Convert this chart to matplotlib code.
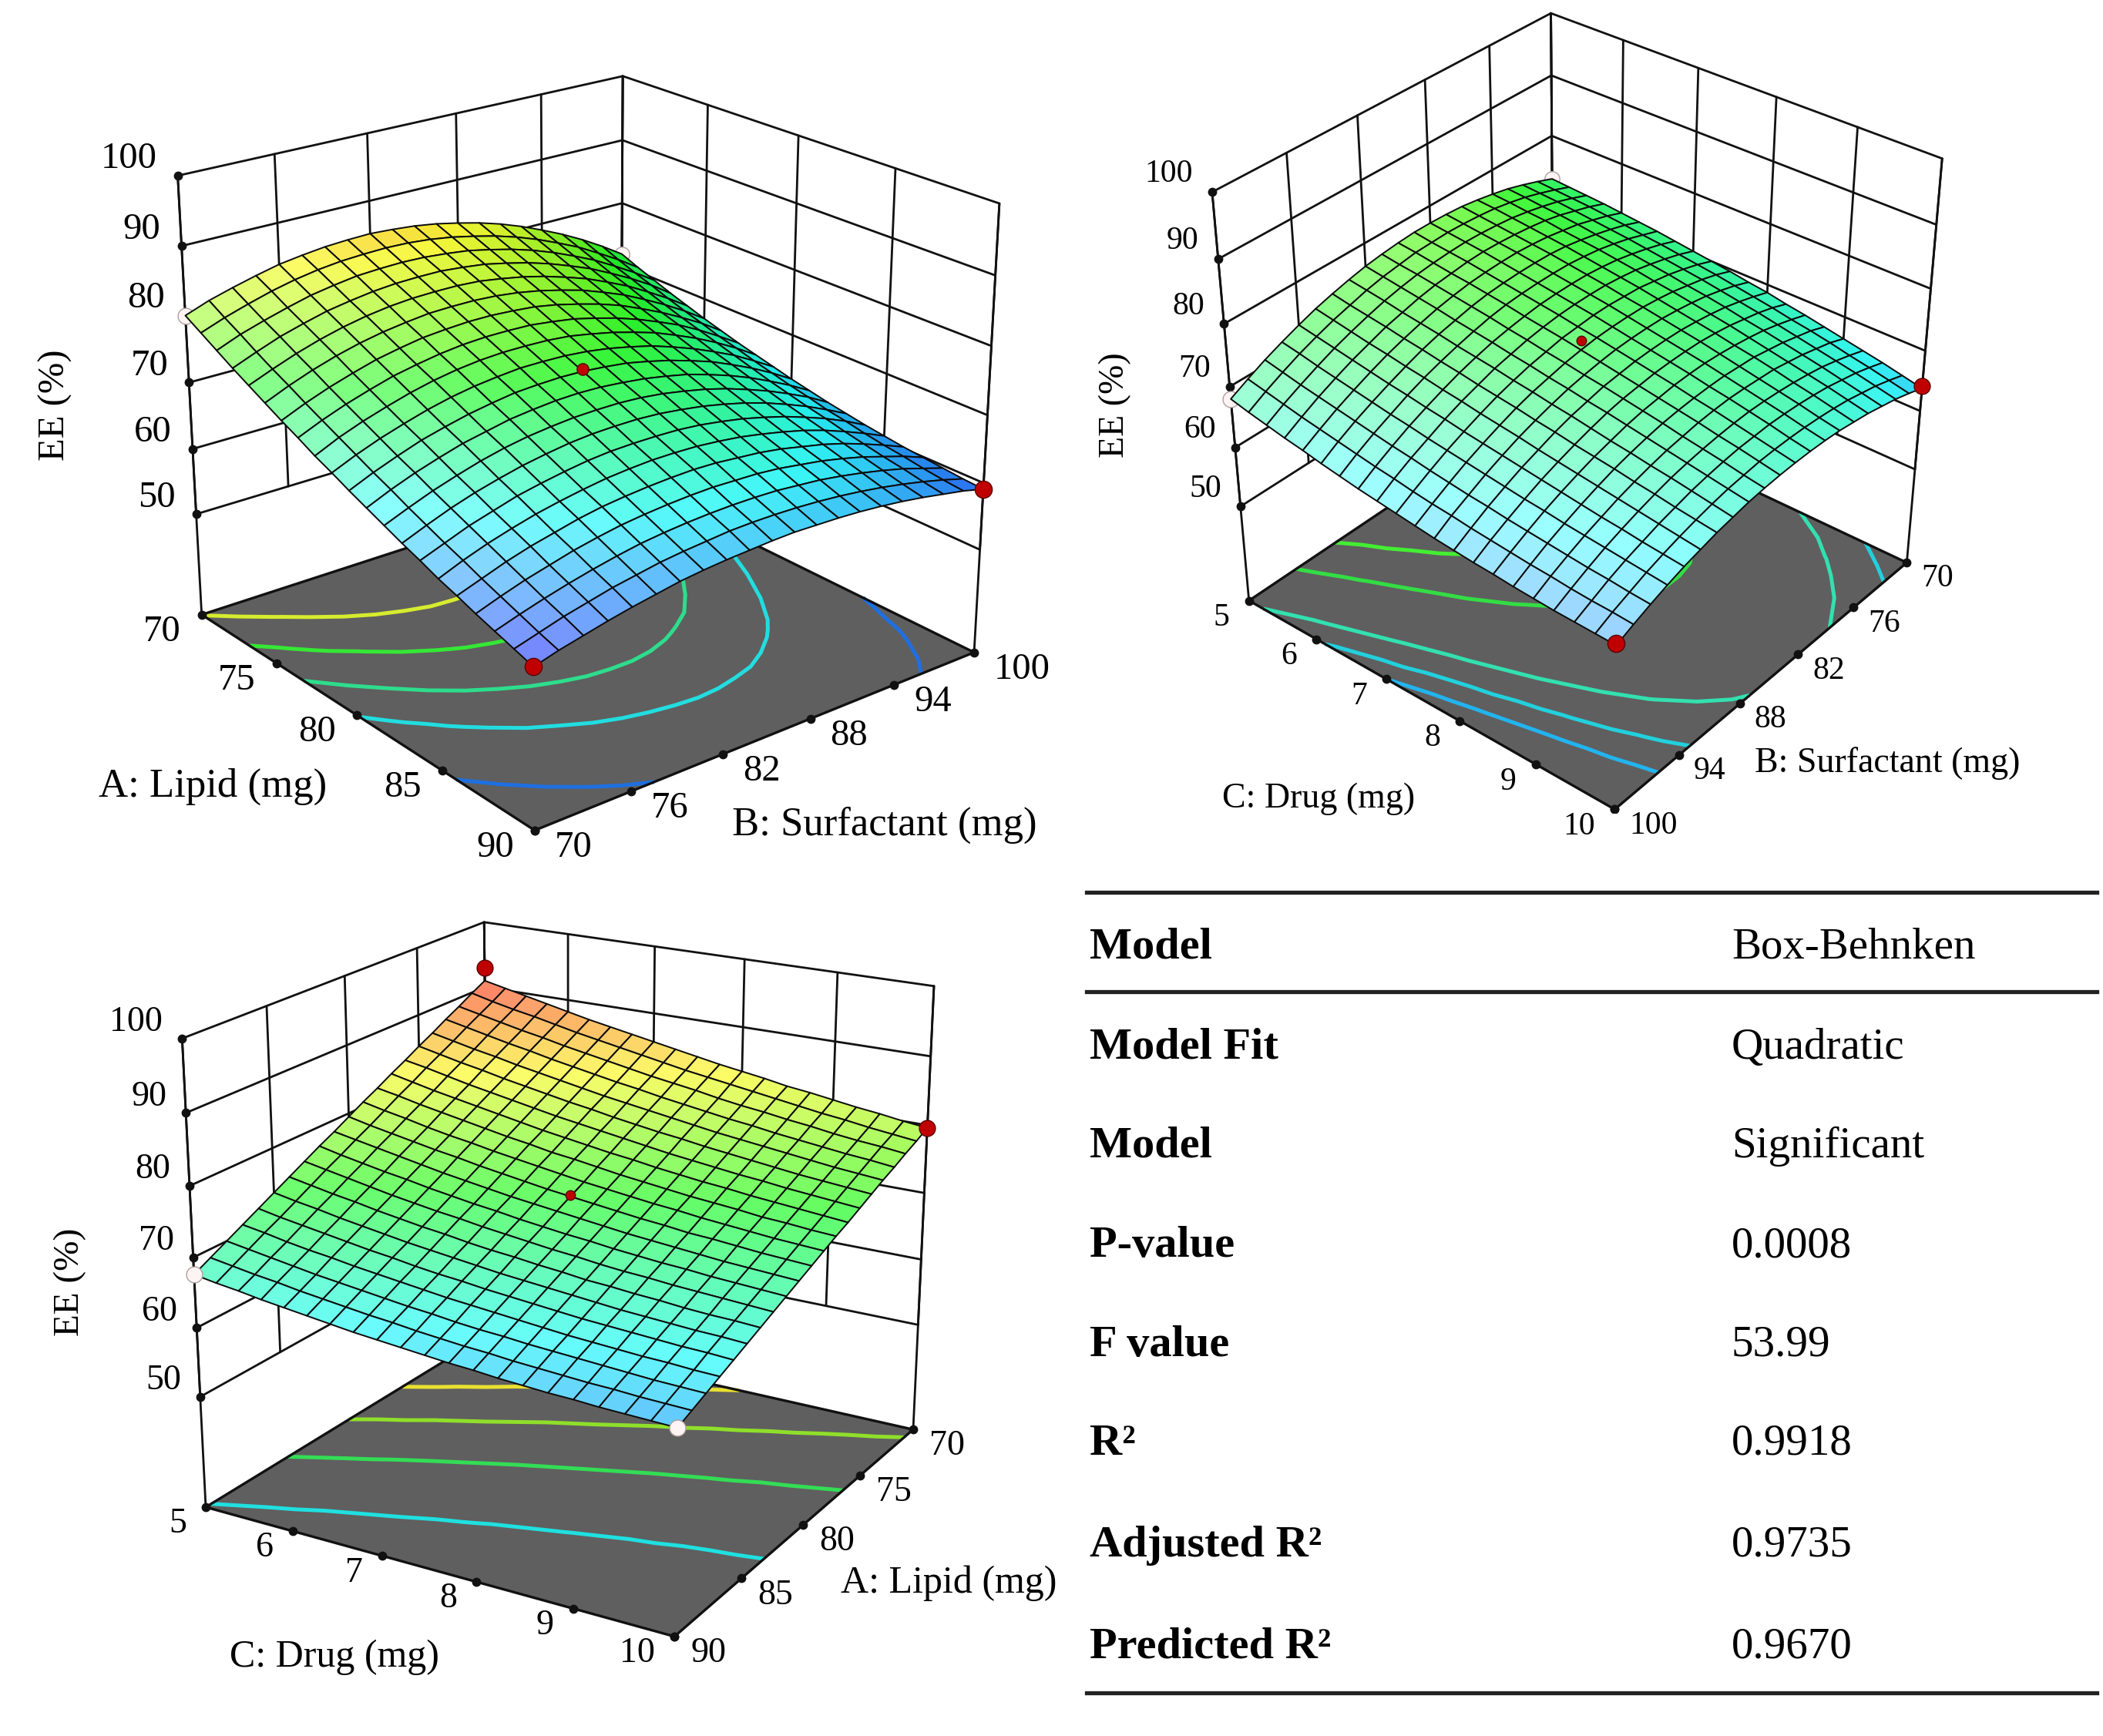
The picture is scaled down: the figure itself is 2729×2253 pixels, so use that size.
import numpy as np
import matplotlib
matplotlib.use('Agg')
import matplotlib.pyplot as plt
from matplotlib.colors import LinearSegmentedColormap, Normalize
from matplotlib.lines import Line2D
from mpl_toolkits.mplot3d import proj3d

W, H = 2729, 2253
plt.rcParams['font.family'] = ['Liberation Serif', 'DejaVu Serif']
fig = plt.figure(figsize=(W / 100, H / 100), dpi=100)

ee_ticks = [50, 60, 70, 80, 90, 100]
lipid_ticks = [70, 75, 80, 85, 90]
surf_ticks = [70, 76, 82, 88, 94, 100]
drug_ticks = [5, 6, 7, 8, 9, 10]

lipid_grid = np.linspace(70, 90, 21)
surf_grid = np.linspace(70, 100, 21)
drug_grid = np.linspace(5, 10, 21)

# EE (%) over lipid (columns) and surfactant (rows)
ee_lipid_surf = [
    [79.9, 78.5, 77.1, 75.7, 74.4, 73.1, 71.8, 70.6, 69.3, 68.2, 67.0, 65.9, 64.8, 63.7, 62.7, 61.6, 60.7, 59.7, 58.8, 57.9, 57.0],
    [81.2, 79.8, 78.5, 77.1, 75.8, 74.6, 73.3, 72.1, 70.9, 69.7, 68.5, 67.4, 66.2, 65.1, 64.0, 63.0, 61.9, 60.9, 59.9, 58.9, 58.0],
    [82.2, 80.9, 79.6, 78.4, 77.1, 75.9, 74.6, 73.4, 72.2, 71.0, 69.8, 68.7, 67.5, 66.4, 65.3, 64.2, 63.1, 62.0, 60.9, 59.9, 58.8],
    [83.1, 81.9, 80.6, 79.4, 78.2, 77.0, 75.7, 74.5, 73.3, 72.1, 71.0, 69.8, 68.6, 67.5, 66.3, 65.2, 64.1, 62.9, 61.8, 60.7, 59.6],
    [83.9, 82.7, 81.5, 80.3, 79.1, 77.9, 76.7, 75.5, 74.3, 73.1, 71.9, 70.8, 69.6, 68.4, 67.3, 66.1, 64.9, 63.8, 62.6, 61.5, 60.3],
    [84.4, 83.3, 82.1, 80.9, 79.8, 78.6, 77.4, 76.2, 75.1, 73.9, 72.7, 71.5, 70.4, 69.2, 68.0, 66.8, 65.7, 64.5, 63.3, 62.1, 60.9],
    [84.8, 83.7, 82.6, 81.4, 80.3, 79.1, 78.0, 76.8, 75.7, 74.5, 73.3, 72.2, 71.0, 69.8, 68.6, 67.4, 66.3, 65.1, 63.9, 62.7, 61.5],
    [85.0, 83.9, 82.8, 81.7, 80.6, 79.5, 78.3, 77.2, 76.1, 74.9, 73.8, 72.6, 71.4, 70.3, 69.1, 67.9, 66.7, 65.5, 64.3, 63.1, 61.9],
    [85.1, 84.0, 82.9, 81.8, 80.7, 79.6, 78.5, 77.4, 76.3, 75.2, 74.0, 72.9, 71.7, 70.6, 69.4, 68.2, 67.0, 65.8, 64.6, 63.4, 62.2],
    [84.9, 83.9, 82.8, 81.8, 80.7, 79.6, 78.5, 77.4, 76.3, 75.2, 74.1, 73.0, 71.8, 70.7, 69.5, 68.4, 67.2, 66.0, 64.8, 63.7, 62.4],
    [84.6, 83.6, 82.5, 81.5, 80.5, 79.4, 78.3, 77.3, 76.2, 75.1, 74.0, 72.9, 71.8, 70.7, 69.5, 68.4, 67.3, 66.1, 64.9, 63.8, 62.6],
    [84.1, 83.1, 82.1, 81.1, 80.0, 79.0, 78.0, 76.9, 75.9, 74.8, 73.7, 72.6, 71.6, 70.5, 69.4, 68.3, 67.2, 66.0, 64.9, 63.8, 62.7],
    [83.4, 82.4, 81.4, 80.4, 79.4, 78.4, 77.4, 76.4, 75.3, 74.3, 73.3, 72.2, 71.2, 70.1, 69.1, 68.0, 66.9, 65.9, 64.8, 63.7, 62.6],
    [82.6, 81.6, 80.6, 79.6, 78.6, 77.6, 76.6, 75.6, 74.6, 73.6, 72.6, 71.6, 70.6, 69.6, 68.6, 67.6, 66.6, 65.6, 64.5, 63.5, 62.5],
    [81.6, 80.6, 79.6, 78.6, 77.6, 76.7, 75.7, 74.7, 73.7, 72.8, 71.8, 70.9, 69.9, 68.9, 68.0, 67.0, 66.1, 65.1, 64.2, 63.2, 62.3],
    [80.4, 79.4, 78.4, 77.4, 76.5, 75.5, 74.6, 73.6, 72.7, 71.7, 70.8, 69.9, 69.0, 68.1, 67.2, 66.3, 65.4, 64.6, 63.7, 62.8, 62.0],
    [79.0, 78.0, 77.0, 76.1, 75.1, 74.2, 73.2, 72.3, 71.4, 70.5, 69.7, 68.8, 67.9, 67.1, 66.3, 65.5, 64.7, 63.9, 63.1, 62.3, 61.6],
    [77.5, 76.5, 75.5, 74.5, 73.6, 72.6, 71.7, 70.9, 70.0, 69.1, 68.3, 67.5, 66.7, 65.9, 65.2, 64.5, 63.8, 63.1, 62.4, 61.7, 61.1],
    [75.8, 74.7, 73.7, 72.8, 71.8, 70.9, 70.0, 69.2, 68.4, 67.6, 66.8, 66.0, 65.3, 64.6, 64.0, 63.3, 62.7, 62.1, 61.6, 61.0, 60.5],
    [73.9, 72.8, 71.8, 70.9, 69.9, 69.0, 68.2, 67.3, 66.6, 65.8, 65.1, 64.4, 63.8, 63.1, 62.6, 62.0, 61.5, 61.1, 60.6, 60.2, 59.9],
    [71.8, 70.7, 69.7, 68.7, 67.8, 66.9, 66.1, 65.3, 64.6, 63.9, 63.2, 62.6, 62.0, 61.5, 61.0, 60.6, 60.2, 59.9, 59.6, 59.3, 59.1],
]

# EE (%) over drug (columns) and surfactant (rows)
ee_drug_surf = [
    [72.7, 72.5, 72.3, 72.1, 71.8, 71.5, 71.2, 70.8, 70.4, 70.0, 69.6, 69.1, 68.7, 68.1, 67.6, 67.0, 66.4, 65.8, 65.2, 64.5, 63.8],
    [73.7, 73.5, 73.3, 73.1, 72.8, 72.5, 72.1, 71.8, 71.4, 71.0, 70.6, 70.1, 69.6, 69.1, 68.5, 68.0, 67.4, 66.7, 66.1, 65.4, 64.7],
    [74.6, 74.4, 74.2, 73.9, 73.6, 73.3, 73.0, 72.6, 72.2, 71.8, 71.4, 70.9, 70.4, 69.9, 69.3, 68.7, 68.1, 67.5, 66.9, 66.2, 65.5],
    [75.4, 75.2, 74.9, 74.7, 74.4, 74.0, 73.7, 73.3, 72.9, 72.5, 72.0, 71.6, 71.1, 70.5, 70.0, 69.4, 68.8, 68.2, 67.5, 66.8, 66.1],
    [76.0, 75.8, 75.5, 75.3, 74.9, 74.6, 74.3, 73.9, 73.5, 73.0, 72.6, 72.1, 71.6, 71.1, 70.5, 69.9, 69.3, 68.7, 68.1, 67.4, 66.7],
    [76.5, 76.3, 76.0, 75.7, 75.4, 75.1, 74.7, 74.3, 73.9, 73.5, 73.0, 72.5, 72.0, 71.5, 70.9, 70.4, 69.8, 69.1, 68.5, 67.8, 67.1],
    [76.9, 76.6, 76.3, 76.0, 75.7, 75.4, 75.0, 74.6, 74.2, 73.7, 73.3, 72.8, 72.3, 71.8, 71.2, 70.6, 70.0, 69.4, 68.8, 68.1, 67.5],
    [77.1, 76.8, 76.5, 76.2, 75.9, 75.5, 75.1, 74.7, 74.3, 73.9, 73.4, 72.9, 72.4, 71.9, 71.4, 70.8, 70.2, 69.6, 69.0, 68.3, 67.7],
    [77.2, 76.9, 76.6, 76.3, 75.9, 75.5, 75.1, 74.7, 74.3, 73.9, 73.4, 72.9, 72.4, 71.9, 71.4, 70.8, 70.3, 69.7, 69.1, 68.4, 67.8],
    [77.2, 76.8, 76.5, 76.2, 75.8, 75.4, 75.0, 74.6, 74.2, 73.7, 73.3, 72.8, 72.3, 71.8, 71.3, 70.7, 70.2, 69.6, 69.0, 68.4, 67.8],
    [77.0, 76.7, 76.3, 75.9, 75.6, 75.2, 74.8, 74.3, 73.9, 73.5, 73.0, 72.5, 72.0, 71.5, 71.0, 70.5, 70.0, 69.4, 68.9, 68.3, 67.7],
    [76.7, 76.3, 76.0, 75.6, 75.2, 74.8, 74.4, 73.9, 73.5, 73.0, 72.6, 72.1, 71.7, 71.2, 70.7, 70.2, 69.6, 69.1, 68.6, 68.0, 67.5],
    [76.3, 75.9, 75.5, 75.1, 74.7, 74.2, 73.8, 73.4, 72.9, 72.5, 72.0, 71.6, 71.1, 70.7, 70.2, 69.7, 69.2, 68.7, 68.2, 67.7, 67.2],
    [75.7, 75.3, 74.9, 74.4, 74.0, 73.6, 73.1, 72.7, 72.3, 71.8, 71.4, 70.9, 70.5, 70.0, 69.5, 69.1, 68.6, 68.2, 67.7, 67.2, 66.7],
    [75.0, 74.5, 74.1, 73.7, 73.2, 72.8, 72.3, 71.9, 71.4, 71.0, 70.6, 70.1, 69.7, 69.2, 68.8, 68.4, 67.9, 67.5, 67.0, 66.6, 66.2],
    [74.2, 73.7, 73.2, 72.7, 72.3, 71.8, 71.4, 70.9, 70.5, 70.0, 69.6, 69.2, 68.7, 68.3, 67.9, 67.5, 67.1, 66.7, 66.3, 65.9, 65.5],
    [73.2, 72.7, 72.2, 71.7, 71.2, 70.7, 70.3, 69.8, 69.4, 68.9, 68.5, 68.1, 67.7, 67.3, 66.9, 66.5, 66.1, 65.8, 65.4, 65.1, 64.8],
    [72.1, 71.6, 71.0, 70.5, 70.0, 69.5, 69.0, 68.6, 68.1, 67.7, 67.3, 66.9, 66.5, 66.1, 65.8, 65.4, 65.1, 64.8, 64.5, 64.2, 63.9],
    [70.9, 70.3, 69.7, 69.2, 68.7, 68.2, 67.7, 67.2, 66.8, 66.3, 65.9, 65.5, 65.2, 64.8, 64.5, 64.2, 63.9, 63.6, 63.4, 63.1, 62.9],
    [69.5, 68.9, 68.3, 67.7, 67.2, 66.7, 66.2, 65.7, 65.3, 64.8, 64.4, 64.1, 63.7, 63.4, 63.1, 62.8, 62.6, 62.3, 62.1, 62.0, 61.8],
    [68.0, 67.3, 66.7, 66.1, 65.6, 65.0, 64.5, 64.0, 63.6, 63.2, 62.8, 62.4, 62.1, 61.8, 61.6, 61.3, 61.1, 60.9, 60.8, 60.7, 60.6],
]

# EE (%) over drug (columns) and lipid (rows)
ee_drug_lipid = [
    [91.0, 90.3, 89.6, 88.9, 88.2, 87.5, 86.9, 86.3, 85.7, 85.1, 84.5, 83.9, 83.4, 82.9, 82.3, 81.9, 81.4, 80.9, 80.5, 80.0, 79.6],
    [89.9, 89.1, 88.4, 87.8, 87.1, 86.4, 85.8, 85.2, 84.6, 84.0, 83.4, 82.9, 82.4, 81.9, 81.4, 80.9, 80.4, 80.0, 79.5, 79.1, 78.7],
    [88.7, 88.0, 87.3, 86.6, 86.0, 85.3, 84.7, 84.1, 83.5, 82.9, 82.4, 81.9, 81.3, 80.8, 80.4, 79.9, 79.5, 79.0, 78.6, 78.3, 77.9],
    [87.6, 86.9, 86.2, 85.5, 84.9, 84.2, 83.6, 83.0, 82.4, 81.9, 81.3, 80.8, 80.3, 79.8, 79.4, 78.9, 78.5, 78.1, 77.7, 77.4, 77.0],
    [86.4, 85.7, 85.0, 84.4, 83.7, 83.1, 82.5, 81.9, 81.3, 80.8, 80.3, 79.8, 79.3, 78.8, 78.4, 78.0, 77.6, 77.2, 76.8, 76.5, 76.2],
    [85.3, 84.6, 83.9, 83.3, 82.6, 82.0, 81.4, 80.8, 80.3, 79.7, 79.2, 78.7, 78.3, 77.8, 77.4, 77.0, 76.6, 76.2, 75.9, 75.6, 75.3],
    [84.1, 83.5, 82.8, 82.1, 81.5, 80.9, 80.3, 79.7, 79.2, 78.7, 78.2, 77.7, 77.2, 76.8, 76.4, 76.0, 75.7, 75.3, 75.0, 74.7, 74.4],
    [83.0, 82.3, 81.6, 81.0, 80.4, 79.8, 79.2, 78.6, 78.1, 77.6, 77.1, 76.7, 76.2, 75.8, 75.4, 75.1, 74.7, 74.4, 74.1, 73.8, 73.5],
    [81.8, 81.2, 80.5, 79.9, 79.3, 78.7, 78.1, 77.6, 77.0, 76.6, 76.1, 75.6, 75.2, 74.8, 74.4, 74.1, 73.8, 73.4, 73.2, 72.9, 72.7],
    [80.7, 80.0, 79.4, 78.7, 78.1, 77.6, 77.0, 76.5, 76.0, 75.5, 75.0, 74.6, 74.2, 73.8, 73.5, 73.1, 72.8, 72.5, 72.2, 72.0, 71.8],
    [79.5, 78.8, 78.2, 77.6, 77.0, 76.5, 75.9, 75.4, 74.9, 74.4, 74.0, 73.6, 73.2, 72.8, 72.5, 72.1, 71.9, 71.6, 71.3, 71.1, 70.9],
    [78.3, 77.7, 77.1, 76.5, 75.9, 75.3, 74.8, 74.3, 73.8, 73.4, 73.0, 72.6, 72.2, 71.8, 71.5, 71.2, 70.9, 70.6, 70.4, 70.2, 70.0],
    [77.2, 76.5, 75.9, 75.3, 74.8, 74.2, 73.7, 73.2, 72.8, 72.3, 71.9, 71.5, 71.2, 70.8, 70.5, 70.2, 70.0, 69.7, 69.5, 69.3, 69.1],
    [76.0, 75.4, 74.8, 74.2, 73.6, 73.1, 72.6, 72.2, 71.7, 71.3, 70.9, 70.5, 70.2, 69.8, 69.5, 69.3, 69.0, 68.8, 68.6, 68.4, 68.2],
    [74.8, 74.2, 73.6, 73.1, 72.5, 72.0, 71.5, 71.1, 70.6, 70.2, 69.9, 69.5, 69.2, 68.8, 68.6, 68.3, 68.1, 67.8, 67.6, 67.5, 67.3],
    [73.6, 73.0, 72.5, 71.9, 71.4, 70.9, 70.4, 70.0, 69.6, 69.2, 68.8, 68.5, 68.2, 67.9, 67.6, 67.3, 67.1, 66.9, 66.7, 66.6, 66.4],
    [72.4, 71.8, 71.3, 70.8, 70.3, 69.8, 69.4, 68.9, 68.5, 68.2, 67.8, 67.5, 67.2, 66.9, 66.6, 66.4, 66.2, 66.0, 65.8, 65.7, 65.5],
    [71.2, 70.7, 70.1, 69.6, 69.2, 68.7, 68.3, 67.9, 67.5, 67.1, 66.8, 66.5, 66.2, 65.9, 65.6, 65.4, 65.2, 65.0, 64.9, 64.7, 64.6],
    [70.0, 69.5, 69.0, 68.5, 68.0, 67.6, 67.2, 66.8, 66.4, 66.1, 65.7, 65.4, 65.2, 64.9, 64.7, 64.5, 64.3, 64.1, 63.9, 63.8, 63.7],
    [68.8, 68.3, 67.8, 67.4, 66.9, 66.5, 66.1, 65.7, 65.4, 65.0, 64.7, 64.4, 64.2, 63.9, 63.7, 63.5, 63.3, 63.2, 63.0, 62.9, 62.8],
    [67.6, 67.1, 66.7, 66.2, 65.8, 65.4, 65.0, 64.6, 64.3, 64.0, 63.7, 63.4, 63.2, 62.9, 62.7, 62.5, 62.4, 62.2, 62.1, 62.0, 61.9],
]

# contour levels on the floor of each plot
levels_1 = [60.9, 66.8, 70.9, 75.4, 79.8]
levels_2 = [63.6, 65.3, 67.4, 71.9, 74.4]
levels_3 = [68.0, 73.9, 78.8, 83.3, 87.8]
colors_1 = ['#1f6fe0', '#22dde0', '#2edd8c', '#35e835', '#d6ec2e']
colors_2 = ['#22b4ee', '#22d0dd', '#33e0b0', '#33dd44', '#44ee33']
colors_3 = ['#20e0e0', '#33dd55', '#8fdf2a', '#e8e030', '#f0d020']

# design points: x, y, EE, kind, marker size, zorder
points_1 = [(70, 70, 79.9, 'w', 15, 3.8), (90, 70, 57.0, 'r', 16, 5), (90, 100, 59.1, 'r', 16, 5),
            (70, 100, 71.8, 'w', 14, 3.8), (80, 85, 74.3, 'r', 11, 5)]
points_2 = [(5, 100, 68.0, 'w', 15, 3.8), (10, 100, 60.9, 'r', 16, 5), (10, 70, 64.2, 'r', 15, 5),
            (5, 70, 72.7, 'w', 14, 3.8), (7.5, 85, 74.5, 'r', 9, 5)]
points_3 = [(5, 90, 67.6, 'w', 15, 5), (10, 90, 61.9, 'w', 15, 5), (10, 70, 79.6, 'r', 15, 5),
            (5, 70, 93.0, 'r', 15, 5), (7.5, 80, 74.2, 'r', 9, 5)]

row_names = ['Model', 'Model Fit', 'Model', 'P-value', 'F value', 'R²', 'Adjusted R²', 'Predicted R²']
row_values = ['Box-Behnken', 'Quadratic', 'Significant', '0.0008', '53.99', '0.9918', '0.9735', '0.9670']

cmap = LinearSegmentedColormap.from_list('de', ['#0000ff', '#00ffff', '#00ff00', '#ffff00', '#ff0000'])
norm = Normalize(56.6, 93.1)


def shaded(Z, xb, yb, zscale, elev, azim):
    # simple lit colours so the mesh keeps its glossy look
    dzx = np.gradient(Z * zscale, xb, axis=1)
    dzy = np.gradient(Z * zscale, yb, axis=0)
    n = np.dstack([-dzx, -dzy, np.ones_like(Z)])
    n = n / np.linalg.norm(n, axis=2, keepdims=True)
    el, az = np.radians(elev), np.radians(azim)
    L = np.array([np.cos(el) * np.cos(az), np.cos(el) * np.sin(az), np.sin(el)])
    d = np.clip((n * L).sum(axis=2), 0, 1)[..., None]
    rgb = cmap(norm(Z))[:, :, :3]
    rgb = rgb * (0.78 + 0.22 * d)
    rgb = rgb + (1 - rgb) * (0.12 + 0.5 * d ** 6)
    return np.dstack([rgb, np.ones_like(Z)])


def panel(view, xl, yl, xticks, yticks, zvals, xg, yg, levels, lcolors, points, zoff, xoff, yoff, fs):
    Z = np.array(zvals)
    elev, azim, f, ry, rz, cx, cy, w, zf = view
    ax = fig.add_axes([(cx - w / 2) / W, (H - cy - w / 2) / H, w / W, w / H], projection='3d', computed_zorder=False)
    ax.patch.set_visible(False)
    ax.set_axis_off()
    ax.view_init(elev, azim)
    ax.set_proj_type('persp', focal_length=f)
    ax.set_box_aspect((1, ry, rz))
    ax.set_xlim(*xl)
    ax.set_ylim(*yl)
    ax.set_zlim(zf, 100)
    x0, x1 = xl
    y0, y1 = yl
    lk = dict(color='#111111', lw=2, zorder=1, solid_capstyle='round')
    # back walls
    for z in ee_ticks:
        ax.plot([x0, x0, x1], [y0, y1, y1], [z, z, z], **lk)
    for y in yticks:
        ax.plot([x0, x0], [y, y], [50, 100], **lk)
    for x in xticks:
        ax.plot([x, x], [y1, y1], [50, 100], **lk)
    ax.plot([x0, x0], [y0, y0], [zf, 100], **lk)
    ax.plot([x1, x1], [y1, y1], [zf, 100], **lk)
    ax.plot([x0, x0], [y1, y1], [zf, 100], **lk)
    # floor with response contours
    FX, FY = np.meshgrid(xl, yl)
    ax.plot_surface(FX, FY, np.full_like(FX, zf, dtype=float), color='#5f5f5f', shade=False, linewidth=0, zorder=2)
    X, Y = np.meshgrid(xg, yg)
    ax.contour(X, Y, Z, levels=levels, colors=lcolors, linewidths=3.6, zdir='z', offset=zf, zorder=3)
    ax.plot([x0, x1, x1, x0, x0], [y0, y0, y1, y1, y0], [zf] * 5, color='#111111', lw=2.4, zorder=3.5)
    # tick dots
    dot = dict(ls='none', marker='o', ms=7.5, color='#111111', zorder=3.6)
    ax.plot([x0] * len(ee_ticks), [y0] * len(ee_ticks), ee_ticks, **dot)
    ax.plot(xticks, [y0] * len(xticks), [zf] * len(xticks), **dot)
    ax.plot([x1] * len(yticks), yticks, [zf] * len(yticks), **dot)
    # surface
    xb = (xg - xg[0]) / (xg[-1] - xg[0])
    yb = (yg - yg[0]) / (yg[-1] - yg[0]) * ry
    sgn = 1 if yl[1] > yl[0] else -1
    fc = shaded(Z, xb, yb * sgn, rz / (100 - zf), elev + 30, azim - 28)
    ax.plot_surface(X, Y, Z, facecolors=fc, edgecolor='#0a0a0a', linewidth=1.4, shade=False, rstride=1, cstride=1, zorder=4)
    # design points
    for (px, py, pz, kind, ms, zo) in points:
        fcol = '#c00000' if kind == 'r' else '#fff4f4'
        ecol = '#5a0000' if kind == 'r' else '#b0a0a0'
        ax.plot([px], [py], [pz], ls='none', marker='o', ms=ms, mfc=fcol, mec=ecol, mew=1, zorder=zo)
    # tick labels
    M = ax.get_proj()

    def lab(x, y, z, s, dx, dy, ha):
        xs, ys, _ = proj3d.proj_transform(np.array([x], float), np.array([y], float), np.array([z], float), M)
        ax.annotate(s, (xs[0], ys[0]), xytext=(dx, dy), textcoords='offset pixels', ha=ha, va='center',
                    fontsize=fs, annotation_clip=False, zorder=6)
    for z in ee_ticks:
        lab(x0, y0, z, str(z), zoff[0], zoff[1], 'right')
    for x in xticks:
        lab(x, y0, zf, str(x), xoff[0], xoff[1], 'right')
    for y in yticks:
        lab(x1, y, zf, str(y), yoff[0], yoff[1], 'left')


panel((22.470, -38.770, 0.606, 1.001, 0.848, 740.446, 558.617, 1176.189, 34.209),
      (70, 90), (70, 100), lipid_ticks, surf_ticks, ee_lipid_surf, lipid_grid, surf_grid,
      levels_1, colors_1, points_1, (-27, 21.6), (-27, -22), (26, -22), 35)
panel((34.140, -50.281, 0.592, 1.001, 0.997, 2037.167, 519.125, 1070.956, 33.358),
      (5, 10), (100, 70), drug_ticks, surf_ticks[::-1], ee_drug_surf, drug_grid, surf_grid,
      levels_2, colors_2, points_2, (-25, 23), (-25, -22.5), (19, -21), 30)
panel((20.315, -59.551, 0.590, 1.001, 0.913, 725.026, 1632.574, 1128.086, 33.603),
      (5, 10), (90, 70), drug_ticks, lipid_ticks[::-1], ee_drug_lipid, drug_grid, lipid_grid,
      levels_3, colors_3, points_3, (-25, 21), (-25, -22), (21, -22), 33)

axis_titles = [('A: Lipid (mg)', 276, 1021, 38), ('B: Surfactant (mg)', 1148, 1071, 38),
               ('C: Drug (mg)', 1711, 1037, 33), ('B: Surfactant (mg)', 2449, 991, 33),
               ('C: Drug (mg)', 434, 2151, 36), ('A: Lipid (mg)', 1231, 2055, 36)]
for s, px, py, fs in axis_titles:
    fig.text(px / W, 1 - py / H, s, ha='center', va='center', fontsize=fs)
for px, py, fs in [(72, 526, 35), (1447, 526, 33), (91, 1664, 34)]:
    fig.text(px / W, 1 - py / H, 'EE (%)', ha='center', va='center', rotation=90, fontsize=fs)

# summary table
row_y = [1230, 1360, 1488, 1617, 1746, 1874, 2006, 2137]
for name, val, py in zip(row_names, row_values, row_y):
    fig.text(1414 / W, 1 - py / H, name, ha='left', va='center', fontsize=42, fontweight='bold')
    fig.text(2247 / W, 1 - py / H, val, ha='left', va='center', fontsize=41)
for py in [1158, 1287, 2197]:
    fig.add_artist(Line2D([1410 / W, 2721 / W], [1 - py / H] * 2, color='#222222', lw=3.8))

fig.savefig('out.png', dpi=100)
